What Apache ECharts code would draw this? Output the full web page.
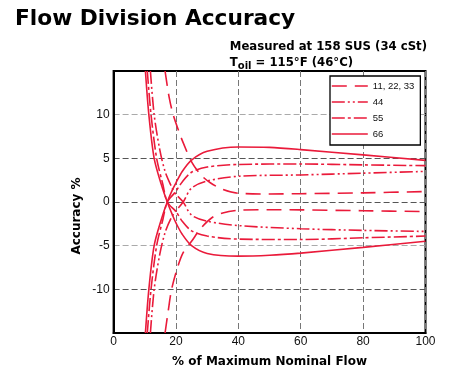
<!DOCTYPE html>
<html><head><meta charset="utf-8">
<script src="https://cdn.jsdelivr.net/npm/echarts@6/dist/echarts.min.js"></script>
<style>html,body{margin:0;padding:0;background:#fff}#c{width:460px;height:383px}</style>
</head><body><div id="c"></div>
<script>
// ---- data (x = % of maximum nominal flow, y = accuracy %) ----
const legendNames = ['11, 22, 33', '44', '55', '66'];
const xTicks = [0, 20, 40, 60, 80, 100];
const yTicks = [-10, -5, 0, 5, 10];

const dashedUpper = [[16.5,15],[17.8,12],[19.1,10],[21,8],[22.3,6.8],[25,4.6],[28,3.1],[31,2.2],[35,1.45],[40,1.0],[50,0.92],[60,0.95],[80,1.05],[100,1.2]];
const dashedLower = [[16.5,-15],[17.5,-12.5],[18.6,-10],[20.5,-7.5],[22.3,-5.8],[25,-4.5],[28,-3.0],[31.5,-1.8],[35,-1.25],[40,-0.95],[50,-0.88],[60,-0.9],[80,-1.0],[100,-1.1]];

const m44Upper = [[11.8,-15],[13,-10],[14.8,-6],[16.5,-3.5],[18.5,-1.8],[20,-1.0],[22.3,0],[25,1.6],[30,2.4],[40,2.95],[60,3.1],[80,3.3],[100,3.5]];
const m44Lower = [[11.8,15],[13,10],[14.8,6],[16.5,3.5],[18.5,1.8],[19.7,1.0],[22.3,0],[25,-1.5],[30,-2.2],[40,-2.7],[60,-3.06],[80,-3.25],[100,-3.37]];

const m55Upper = [[10.8,-15],[12,-10],[13.8,-5],[15.8,-2],[17.2,0],[19.7,1.1],[22,2.3],[25,3.4],[30,4.0],[40,4.3],[60,4.35],[80,4.25],[100,4.16]];
const m55Lower = [[10.8,15],[12,10],[13.8,5],[15.8,2],[17.2,0],[20,-1.1],[22,-2.2],[25,-3.3],[30,-3.9],[40,-4.25],[60,-4.3],[80,-4.1],[100,-3.9]];

const m66Upper = [[10.2,-15],[11.3,-10],[13,-5],[15.3,-2],[17.2,0],[19,1.5],[20,2.2],[22,3.5],[25,4.8],[30,5.8],[40,6.3],[50,6.25],[60,6.0],[80,5.4],[100,4.77]];
const m66Lower = [[10.2,15],[11.3,10],[13,5],[15.3,2],[17.2,0],[19,-1.6],[20,-2.4],[22,-3.7],[25,-5],[30,-5.9],[40,-6.2],[50,-6.1],[60,-5.85],[80,-5.2],[100,-4.5]];

// ---- styling ----
const RED = '#ea1a3a';
const FONT = 'Liberation Sans, Arial, Helvetica, sans-serif';
const WIDE = 'DejaVu Sans, Verdana, sans-serif';
const dashes = {
  '11, 22, 33': [15, 8],
  '44': [13, 3, 2, 3, 2, 3],
  '55': [13, 3, 3, 3],
  '66': 'solid'
};
function mk(name, data) {
  return {
    name: name, type: 'line', data: data, showSymbol: false, symbol: 'none',
    smooth: 0.3, silent: true, animation: false,
    lineStyle: { color: RED, width: 1.6, type: dashes[name] },
    itemStyle: { color: RED }
  };
}

const chart = echarts.init(document.getElementById('c'), null, { renderer: 'canvas' });
chart.setOption({
  animation: false,
  backgroundColor: '#fff',
  title: [
    { text: 'Flow Division Accuracy', left: 10, top: 3,
      textStyle: { fontFamily: WIDE, fontSize: 21.7, fontWeight: 'bold', color: '#000' } },
    { text: '{m|Measured at 158 SUS (34 cSt)}\n{m|T}{s|oil}{m| = 115°F (46°C)}',
      right: 28, top: 34,
      textStyle: { align: 'right', fontFamily: WIDE,
        rich: {
          m: { fontFamily: WIDE, fontSize: 11.7, fontWeight: 'bold', color: '#000', lineHeight: 16 },
          s: { fontFamily: WIDE, fontSize: 10, fontWeight: 'bold', color: '#000', lineHeight: 16, padding: [7, 0, 0, 0] }
        } } }
  ],
  legend: {
    data: legendNames.map(n => ({ name: n, itemStyle: { opacity: 0 },
      lineStyle: { color: RED, width: 1.6, type: dashes[n] } })),
    orient: 'vertical', left: 330, top: 76,
    itemWidth: 36, itemHeight: 12, itemGap: 4,
    padding: [4, 6, 5, 1], borderColor: '#000', borderWidth: 1.3,
    backgroundColor: '#fff',
    textStyle: { fontFamily: FONT, fontSize: 9.5, color: '#111', lineHeight: 12 },
    selectedMode: false
  },
  grid: { left: 113.6, right: 34.5, top: 71, bottom: 50, show: true,
          borderColor: '#000', borderWidth: 2, backgroundColor: 'transparent', containLabel: false },
  xAxis: {
    type: 'value', min: 0, max: 100, interval: 20,
    name: '% of Maximum Nominal Flow', nameLocation: 'middle', nameGap: 23,
    nameTextStyle: { fontFamily: WIDE, fontSize: 12, fontWeight: 'bold', color: '#000' },
    axisLine: { show: true, onZero: false, lineStyle: { color: '#000', width: 2 } },
    axisTick: { show: false },
    axisLabel: { margin: 3, fontFamily: FONT, fontSize: 12, color: '#111',
      formatter: v => (xTicks.indexOf(v) >= 0 ? String(v) : '') },
    splitLine: { show: true, lineStyle: { color: '#777', width: 1, type: [6, 3] } }
  },
  yAxis: {
    type: 'value', min: -15, max: 15, interval: 5,
    axisLine: { show: true, onZero: false, lineStyle: { color: '#000', width: 2 } },
    axisTick: { show: false },
    axisLabel: { margin: 4, fontFamily: FONT, fontSize: 12, color: '#111',
      formatter: v => (yTicks.indexOf(v) >= 0 ? String(v) : '') },
    splitLine: { show: true, lineStyle: { color: ['#000', '#555', '#aaa', '#555', '#555', '#aaa', '#000'], width: 1, type: [6, 3] } }
  },
  graphic: [
    { type: 'text', x: 77, y: 216, rotation: Math.PI / 2,
      style: { text: 'Accuracy %', fontFamily: WIDE, fontSize: 12, fontWeight: 'bold', fill: '#000',
               align: 'center', verticalAlign: 'middle' } }
  ],
  series: [
    mk('11, 22, 33', dashedUpper), mk('11, 22, 33', dashedLower),
    mk('44', m44Upper), mk('44', m44Lower),
    mk('55', m55Upper), mk('55', m55Lower),
    mk('66', m66Upper), mk('66', m66Lower)
  ]
});
</script></body></html>
